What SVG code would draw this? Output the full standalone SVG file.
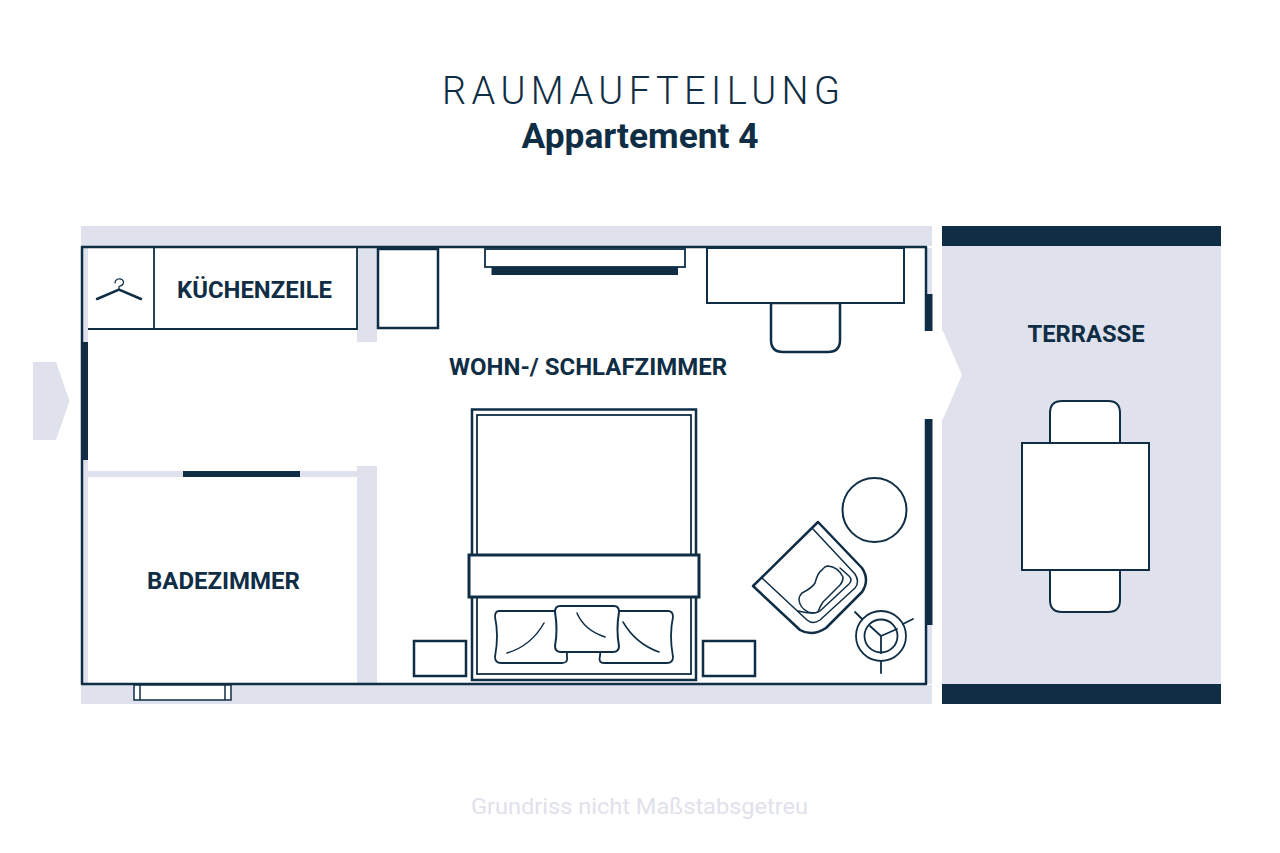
<svg xmlns="http://www.w3.org/2000/svg" width="1280" height="853" viewBox="0 0 1280 853">
<style>
.l{fill:#dfe1ec}
.d{fill:#0f2e45}
.s{fill:#fff;stroke:#0f2e45;stroke-width:2.5}
.t{fill:#fff;stroke:#0f2e45;stroke-width:1.8}
.o{fill:none;stroke:#0f2e45;stroke-width:2;stroke-linecap:round;stroke-linejoin:round}
.lab{font-family:"Roboto","Liberation Sans",sans-serif;font-weight:700;fill:#0f2e45}
</style>
<rect width="1280" height="853" fill="#fff"/>
<g id="walls">
<rect class="l" x="81" y="226" width="851" height="20"/>
<rect class="l" x="81" y="685" width="851" height="19"/>
<rect class="l" x="83" y="248" width="5" height="436"/>
<rect class="l" x="927" y="248" width="5" height="436"/>
<rect class="l" x="357" y="248" width="20" height="94"/>
<rect class="l" x="357" y="466" width="20" height="218"/>
<rect class="l" x="88" y="471" width="269" height="6"/>
<path class="o" style="stroke-width:2.5;stroke-linecap:butt" d="M82 247H926V684H82Z"/>
<rect class="d" x="81" y="342" width="7" height="118"/>
<rect class="d" x="183" y="471" width="117" height="6"/>
<rect class="d" x="925" y="294" width="7.500" height="37"/>
<rect class="d" x="925" y="419" width="7.500" height="206"/>
</g>
<g id="terrace">
<rect class="l" x="942" y="226" width="279" height="478"/>
<rect class="d" x="942" y="226" width="279" height="20"/>
<rect class="d" x="942" y="684" width="279" height="20"/>
<path class="s" style="stroke-width:2" d="M1050 443V413Q1050 401 1062 401H1108Q1120 401 1120 413V443Z"/>
<path class="s" style="stroke-width:2" d="M1050 570V600Q1050 612 1062 612H1108Q1120 612 1120 600V570Z"/>
<rect class="s" style="stroke-width:2" x="1022" y="443" width="127" height="127"/>
<text class="lab" x="1086" y="342" font-size="23" text-anchor="middle" textLength="117" lengthAdjust="spacingAndGlyphs">TERRASSE</text>
</g>
<g id="door-terrace"><polygon fill="#fff" points="920,331 943,331 962,375 943,419 920,419"/></g>
<g id="entrance"><polygon class="l" points="33,362 56,362 69.500,401 56,440 33,440"/></g>
<g id="title">
<text x="641" y="104" font-family="Roboto,'Liberation Sans',sans-serif" font-weight="300" font-size="38" fill="#0f2e45" text-anchor="middle" textLength="398">RAUMAUFTEILUNG</text>
<text class="lab" x="640" y="148" font-size="35" text-anchor="middle" textLength="237" lengthAdjust="spacingAndGlyphs">Appartement 4</text>
</g>
<g id="kitchen">
<path class="t" fill="none" d="M88 329H357V248M154 248V329"/>
<g fill="none" stroke="#0f2e45" stroke-linecap="round">
<path stroke-width="2.500" d="M97 299L119 289.500L141 299"/>
<path stroke-width="1.200" d="M119 289V286.500Q124 285 123.500 281.500Q122 278 118 279Q115 280 115 283"/>
</g>
<text class="lab" x="254.500" y="298" font-size="24" text-anchor="middle" textLength="155" lengthAdjust="spacingAndGlyphs">KÜCHENZEILE</text>
</g>
<g id="cabinet"><rect class="s" x="378" y="249" width="60" height="79"/></g>
<g id="tv">
<rect class="t" x="485" y="249" width="200" height="18"/>
<rect class="d" x="491.500" y="267" width="186.500" height="8"/>
</g>
<g id="desk">
<path class="s" d="M771 303V340Q771 352 783 352H828Q840 352 840 340V303Z"/>
<rect class="t" style="stroke-width:2" x="707" y="248" width="197" height="55"/>
</g>
<g id="living-label"><text class="lab" x="588" y="375" font-size="24" text-anchor="middle" textLength="278" lengthAdjust="spacingAndGlyphs">WOHN-/ SCHLAFZIMMER</text></g>
<g id="bed">
<rect class="s" x="472" y="409.500" width="224" height="270.500"/>
<rect class="t" x="477" y="415" width="214" height="259"/>
<rect class="s" style="stroke-width:3" x="469" y="555" width="230" height="42"/>
<path class="t" d="M499 611H566L567 657Q568 663 562 663H501Q495 663 495 657Q499 635 495 617Q495 611 499 611Z"/>
<path class="t" d="M603 611H668Q673 611 673 617Q669 635 673 657Q673 663 667 663H604Q598 663 600 656L602 630Z"/>
<path class="t" style="stroke-width:2" d="M560 606H614Q619 606 619 612Q616 630 619 646Q619 652 613 652H561Q555 652 555 646Q558 630 555 612Q555 606 560 606Z"/>
<path class="o" style="stroke-width:1.500" d="M507 653Q531 646 544 623M577 613Q584 630 605 637M623 622Q636 644 659 652"/>
</g>
<g id="nightstand-left"><rect class="s" x="414" y="641" width="52" height="35"/></g>
<g id="nightstand-right"><rect class="s" x="703" y="641" width="52" height="35"/></g>
<g id="side-table"><circle class="t" style="stroke-width:2" cx="874.500" cy="510" r="32"/></g>
<g id="armchair">
<path class="s" stroke-linejoin="round" d="M818 522L862 568Q870 580 862 592L826 628Q812 637 800 630L753 586Z"/>
<path class="o" style="stroke-width:1.500" d="M812 528L855 574Q860 582 855 588L820 620Q813 625 807 620L762 578"/>
<path class="o" style="stroke-width:1.500" d="M840 568L849 576Q853 580 849 584L820 611Q814 615 798 611"/>
<path class="o" style="stroke-width:1.500" d="M828 566Q838 567 843 577Q843 582 840 585L823 602Q820 606 818 612Q813 614 808 612Q800 608 799 600Q799 596 802 593Q812 588 815 583Q818 572 822 570Q825 566 828 566Z"/>
</g>
<g id="plant">
<circle class="t" cx="881" cy="636" r="25"/>
<circle class="t" cx="881" cy="636" r="16.500"/>
<path class="o" style="stroke-width:1.800" d="M881 636L870 626M881 636L897 629M881 636V653M855 612L862 619M913 619L903 624M881 662V673"/>
</g>
<g id="bathroom">
<text class="lab" x="223.500" y="589" font-size="24" text-anchor="middle" textLength="153" lengthAdjust="spacingAndGlyphs">BADEZIMMER</text>
</g>
<g id="bath-window">
<rect class="t" style="stroke-width:1.500" x="134" y="685" width="97" height="15"/>
<path class="t" style="stroke-width:1.500" d="M140 685V700M225 685V700"/>
</g>
<text x="639.500" y="814" font-family="Roboto,'Liberation Sans',sans-serif" font-weight="400" font-size="22" fill="#dfe1ec" text-anchor="middle" textLength="337" lengthAdjust="spacingAndGlyphs">Grundriss nicht Maßstabsgetreu</text>
</svg>
